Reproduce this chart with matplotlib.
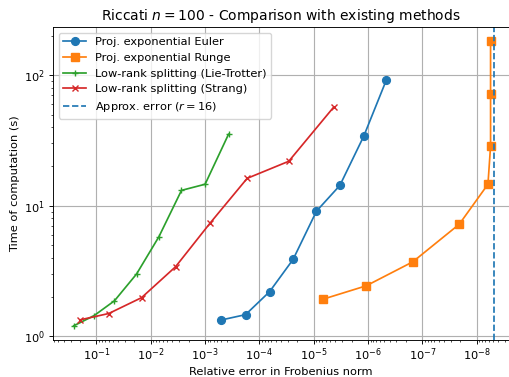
import matplotlib
matplotlib.use("Agg")
import matplotlib.pyplot as plt
import numpy as np

# relative error (Frobenius) vs. wall time for each integrator
euler_err = [5.0e-4, 1.8e-4, 6.5e-5, 2.4e-5, 8.9e-6, 3.3e-6, 1.2e-6, 4.6e-7]
euler_time = [1.33, 1.46, 2.19, 3.87, 9.08, 14.3, 34.1, 92.0]

runge_err = [6.7e-6, 1.08e-6, 1.5e-7, 2.09e-8, 6.2e-9, 5.55e-9, 5.55e-9, 5.55e-9]
runge_time = [1.92, 2.43, 3.71, 7.21, 14.6, 28.7, 71.5, 183.0]

lie_err = [0.262, 0.112, 0.0466, 0.0183, 7.1e-3, 2.72e-3, 1.0e-3, 3.7e-4]
lie_time = [1.20, 1.43, 1.865, 2.99, 5.77, 13.1, 14.6, 35.3]

strang_err = [0.203, 0.0593, 0.0148, 3.5e-3, 8.2e-4, 1.68e-4, 2.88e-5, 4.3e-6]
strang_time = [1.33, 1.49, 1.97, 3.40, 7.30, 16.2, 21.9, 56.9]

approx_err = 4.8e-9
rank = 16

s = 0.82
plt.rcParams.update({
    "font.size": 8.2,
    "axes.titlesize": 10,
    "lines.linewidth": 1.5 * s,
    "lines.markersize": 5.6,
    "axes.linewidth": 0.8 * s,
    "xtick.major.width": 0.8 * s,
    "ytick.major.width": 0.8 * s,
    "xtick.minor.width": 0.6 * s,
    "ytick.minor.width": 0.6 * s,
    "xtick.major.size": 3.5 * s,
    "ytick.major.size": 3.5 * s,
    "xtick.minor.size": 2 * s,
    "ytick.minor.size": 2 * s,
    "xtick.major.pad": 1.6,
    "ytick.major.pad": 3.5 * s,
    "axes.labelpad": 3,
    "axes.titlepad": 5,
})

fig = plt.figure(figsize=(5.09, 3.77), dpi=100)
# the plot area runs right up to the figure's right edge
ax = fig.add_axes([53 / 509, 37 / 377, 1 - 53 / 509, 313 / 377])

ax.plot(euler_err, euler_time, "o-", label="Proj. exponential Euler")
ax.plot(runge_err, runge_time, "s-", label="Proj. exponential Runge")
ax.plot(lie_err, lie_time, "+-", markersize=5, label="Low-rank splitting (Lie-Trotter)")
ax.plot(strang_err, strang_time, "x-", markersize=5, label="Low-rank splitting (Strang)")
ax.axvline(approx_err, color="C0", linestyle="--", label=f"Approx. error ($r={rank}$)")

ax.set_xscale("log")
ax.set_yscale("log")
ax.set_xlim(10 ** -0.2, 10 ** -8.595)
ax.set_ylim(10 ** -0.03, 10 ** 2.37)
ax.spines["right"].set_visible(False)
ax.grid(True, which="major", linewidth=1.0 * s)
ax.set_title(r"Riccati $n=100$ - Comparison with existing methods")
ax.set_xlabel("Relative error in Frobenius norm")
ax.set_ylabel("Time of computation (s)")
ax.legend(loc="upper left")

fig.savefig("out.png", dpi=100)
